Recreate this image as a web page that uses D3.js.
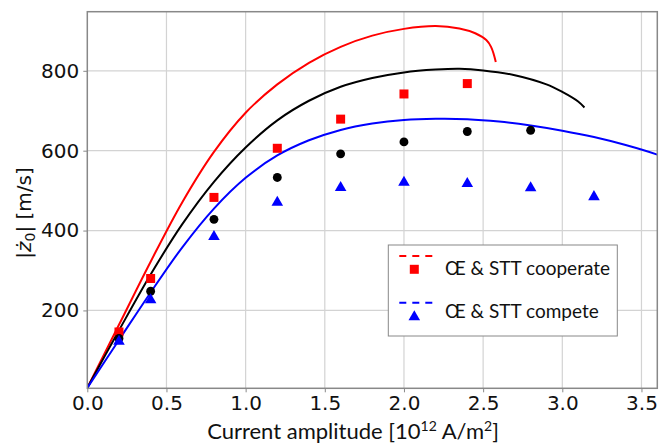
<!DOCTYPE html>
<html>
<head>
<meta charset="utf-8">
<script src="https://cdn.jsdelivr.net/npm/d3@7"></script>
<style>
html,body{margin:0;padding:0;background:#fff;}
svg{display:block;}
</style>
</head>
<body>
<svg id="chart" width="659" height="444"></svg>
<script>
// ---- data ----
const redCurveX   = [0, 0.2, 0.4, 0.6, 0.8, 1.0, 1.2, 1.4, 1.6, 1.8, 2.0, 2.2, 2.35, 2.45, 2.52, 2.55, 2.58];
const redCurveY   = [6, 164, 322, 471, 597, 695, 766, 820, 860, 888, 905, 912, 906, 894, 877, 860, 822];
const blackCurveX = [0, 0.2, 0.4, 0.6, 0.8, 1.0, 1.2, 1.4, 1.6, 1.8, 2.0, 2.2, 2.35, 2.5, 2.7, 2.9, 3.0, 3.1, 3.14];
const blackCurveY = [6, 150, 290, 416, 522, 608, 676, 725, 760, 782, 796, 803, 805, 801, 789, 766, 747, 723, 708];
const blueCurveX  = [0, 0.2, 0.4, 0.6, 0.8, 1.0, 1.2, 1.4, 1.6, 1.8, 2.0, 2.2, 2.4, 2.6, 2.8, 3.0, 3.2, 3.4, 3.6, 3.62];
const blueCurveY  = [6, 126, 245, 358, 455, 532, 588, 626, 652, 668, 677, 680, 679, 673, 663, 650, 634, 614, 590, 587];

const coopX  = [0.2, 0.4, 0.8, 1.2, 1.6, 2.0, 2.4];
const coopY  = [146, 280, 483, 606, 679, 742, 768];
const midX   = [0.2, 0.4, 0.8, 1.2, 1.6, 2.0, 2.4, 2.8];
const midY   = [130, 248, 428, 533, 592, 622, 648, 651];
const compX  = [0.2, 0.4, 0.8, 1.2, 1.6, 2.0, 2.4, 2.8, 3.2];
const compY  = [125, 229, 387, 473, 510, 523, 520, 509, 487];

const xTicks = [0, 0.5, 1.0, 1.5, 2.0, 2.5, 3.0, 3.5];
const yTicks = [200, 400, 600, 800];
const legendLabels = ["Œ & STT cooperate", "Œ & STT compete"];

// ---- layout ----
const L = 87.3, R = 657.3, T = 11.7, B = 388.3;
const svg = d3.select("#chart");
const x = d3.scaleLinear().domain([0, 3.6]).range([L, R]);
const y = d3.scaleLinear().domain([5, 948]).range([B, T]);

svg.append("defs").append("clipPath").attr("id","clip")
  .append("rect").attr("x",L).attr("y",T).attr("width",R-L).attr("height",B-T);

// grid
const grid = svg.append("g");
grid.selectAll(".gx").data(xTicks.filter(d=>d>0)).join("line")
  .attr("x1",d=>x(d)).attr("x2",d=>x(d)).attr("y1",T).attr("y2",B)
  .attr("stroke","#d3d3d3").attr("stroke-width",1.2);
grid.selectAll(".gy").data(yTicks).join("line")
  .attr("y1",d=>y(d)).attr("y2",d=>y(d)).attr("x1",L).attr("x2",R)
  .attr("stroke","#d3d3d3").attr("stroke-width",1.2);

// axes
const xAxis = d3.axisBottom(x).tickValues(xTicks).tickFormat(d3.format(".1f")).tickSize(4).tickPadding(4);
const yAxis = d3.axisLeft(y).tickValues(yTicks).tickFormat(d3.format("d")).tickSize(4).tickPadding(4);
const gx = svg.append("g").attr("transform",`translate(0,${B})`).call(xAxis);
const gy = svg.append("g").attr("transform",`translate(${L},0)`).call(yAxis);
[gx,gy].forEach(g=>{
  g.select(".domain").remove();
  g.selectAll(".tick line").attr("stroke","#888").attr("stroke-width",1);
  g.selectAll(".tick text").attr("fill","#111").style("font-family","DejaVu Sans").style("font-size","20px");
});

// curves
const line = d3.line().x(d=>x(d[0])).y(d=>y(d[1])).curve(d3.curveCatmullRom.alpha(0.5));
const curves = [
  {xs: redCurveX, ys: redCurveY, c: "#ff0000"},
  {xs: blackCurveX, ys: blackCurveY, c: "#000000"},
  {xs: blueCurveX, ys: blueCurveY, c: "#0000ff"}
];
const cg = svg.append("g").attr("clip-path","url(#clip)");
curves.forEach(s=>{
  cg.append("path").datum(d3.zip(s.xs, s.ys)).attr("d", line)
    .attr("fill","none").attr("stroke", s.c).attr("stroke-width",2);
});

// markers
const sq = d3.symbol().type(d3.symbolSquare).size(81);
const ci = d3.symbol().type(d3.symbolCircle).size(62);
const tri = d3.symbol().type(d3.symbolTriangle).size(58);
const mg = svg.append("g");
mg.selectAll(".sq").data(d3.zip(coopX, coopY)).join("path")
  .attr("transform",d=>`translate(${x(d[0])},${y(d[1])})`).attr("d",sq).attr("fill","#ff0000");
mg.selectAll(".ci").data(d3.zip(midX, midY)).join("path")
  .attr("transform",d=>`translate(${x(d[0])},${y(d[1])})`).attr("d",ci).attr("fill","#000");
mg.selectAll(".tr").data(d3.zip(compX, compY)).join("path")
  .attr("transform",d=>`translate(${x(d[0])},${y(d[1])+1})`).attr("d",tri).attr("fill","#0000ff");

// frame
svg.append("rect").attr("x",L).attr("y",T).attr("width",R-L).attr("height",B-T)
  .attr("fill","none").attr("stroke","#888").attr("stroke-width",1.5);

// legend
const lg = svg.append("g");
lg.append("rect").attr("x",388.3).attr("y",245).attr("width",229).attr("height",91)
  .attr("fill","#fff").attr("stroke","#888").attr("stroke-width",1);
const entries = [
  {label: legendLabels[0], c:"#ff0000", sym: sq, ly: 256, my: 269.3, ty: 275},
  {label: legendLabels[1], c:"#0000ff", sym: tri, ly: 302.7, my: 317, ty: 318}
];
entries.forEach(e=>{
  lg.append("line").attr("x1",399.3).attr("x2",433).attr("y1",e.ly).attr("y2",e.ly)
    .attr("stroke",e.c).attr("stroke-width",2).attr("stroke-dasharray","7,6");
  lg.append("path").attr("transform",`translate(414.3,${e.my})`).attr("d",e.sym).attr("fill",e.c);
  lg.append("text").attr("x",445).attr("y",e.ty).text(e.label)
    .style("font-family","Lato").style("font-size","19px").attr("fill","#111");
});

// x label
const xl = svg.append("text").attr("x",353).attr("y",439).attr("text-anchor","middle")
  .style("font-family","Lato").style("font-size","22px").attr("fill","#111");
xl.append("tspan").text("Current amplitude [10");
xl.append("tspan").attr("dy",-8).style("font-size","14px").text("12");
xl.append("tspan").attr("dy",8).text(" A/m");
xl.append("tspan").attr("dy",-8).style("font-size","14px").text("2");
xl.append("tspan").attr("dy",8).text("]");

// y label
const yl = svg.append("text").attr("transform","translate(31,213) rotate(-90)").attr("text-anchor","middle")
  .style("font-family","DejaVu Sans").style("font-size","20px").attr("fill","#111");
yl.append("tspan").text("|");
yl.append("tspan").style("font-style","italic").text("ż");
yl.append("tspan").attr("dy",4).style("font-size","14px").text("0");
yl.append("tspan").attr("dy",-4).text("| [m/s]");
</script>
</body>
</html>
